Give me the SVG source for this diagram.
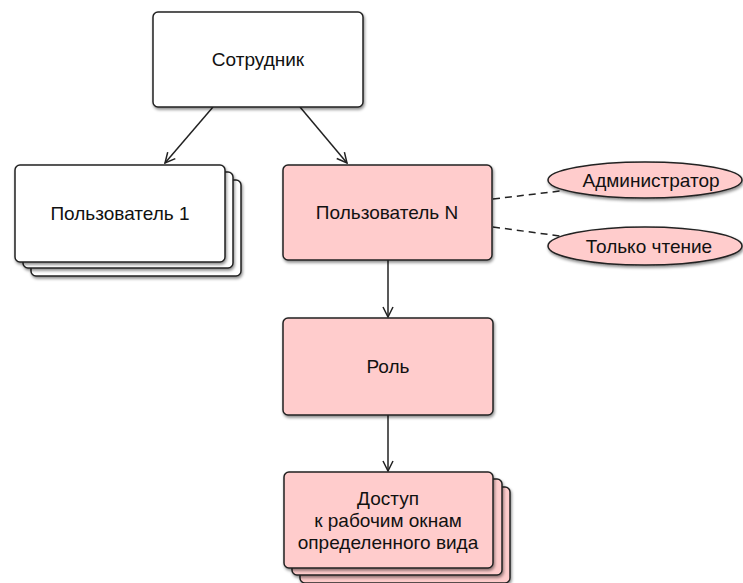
<svg xmlns="http://www.w3.org/2000/svg" width="743" height="583" viewBox="0 0 743 583">
<style>
.box{stroke:#222;stroke-width:1.5;filter:url(#sh)}
.w{fill:#fff}
.p{fill:#ffcccc}
.t{font-family:"Liberation Sans",Arial,sans-serif;font-size:19px;fill:#111;text-anchor:middle}
.c{fill:none;stroke:#222;stroke-width:1.5}
.d{fill:none;stroke:#222;stroke-width:1.5;stroke-dasharray:7,5}
</style>
<defs>
<filter id="sh" x="-10%" y="-10%" width="130%" height="140%">
<feDropShadow dx="1" dy="2" stdDeviation="1.5" flood-color="#000" flood-opacity="0.45"/>
</filter>
<marker id="ar" viewBox="0 0 12 12" refX="11" refY="6" markerWidth="12" markerHeight="12" markerUnits="userSpaceOnUse" orient="auto">
<path d="M1,1 L11,6 L1,11" fill="none" stroke="#222" stroke-width="1.5"/>
</marker>
</defs>
<rect width="743" height="583" fill="#fff"/>
<g id="connectors">
<line class="c" x1="213" y1="107" x2="165" y2="163" marker-end="url(#ar)"/>
<line class="c" x1="300" y1="107" x2="347" y2="163" marker-end="url(#ar)"/>
<line class="c" x1="388" y1="260" x2="388" y2="317" marker-end="url(#ar)"/>
<line class="c" x1="388" y1="415" x2="388" y2="471" marker-end="url(#ar)"/>
<line class="d" x1="493" y1="199" x2="560" y2="191"/>
<line class="d" x1="493" y1="227" x2="560" y2="236"/>
</g>
<g id="sotrudnik">
<rect class="box w" x="153" y="12" width="210" height="95" rx="5"/>
<text class="t" x="258" y="66">Сотрудник</text>
</g>
<g id="user1">
<rect class="box w" x="31" y="180" width="210" height="96" rx="5"/>
<rect class="box w" x="23" y="172" width="210" height="96" rx="5"/>
<rect class="box w" x="15" y="165" width="210" height="97" rx="5"/>
<text class="t" x="120" y="220">Пользователь 1</text>
</g>
<g id="userN">
<rect class="box p" x="283" y="165" width="209" height="95" rx="5"/>
<text class="t" x="387" y="219">Пользователь N</text>
</g>
<g id="admin">
<ellipse class="box p" cx="645" cy="180" rx="97" ry="18"/>
<text class="t" x="651" y="187">Администратор</text>
</g>
<g id="readonly">
<ellipse class="box p" cx="645" cy="246" rx="97" ry="19"/>
<text class="t" x="649" y="253">Только чтение</text>
</g>
<g id="role">
<rect class="box p" x="283" y="318" width="210" height="97" rx="5"/>
<text class="t" x="388" y="373">Роль</text>
</g>
<g id="access">
<rect class="box p" x="300" y="487" width="210" height="96" rx="5"/>
<rect class="box p" x="292" y="479" width="210" height="96" rx="5"/>
<rect class="box p" x="284" y="472" width="209" height="96" rx="5"/>
<text class="t" x="388" y="505">Доступ</text>
<text class="t" x="388" y="527">к рабочим окнам</text>
<text class="t" x="388" y="549">определенного вида</text>
</g>
</svg>
